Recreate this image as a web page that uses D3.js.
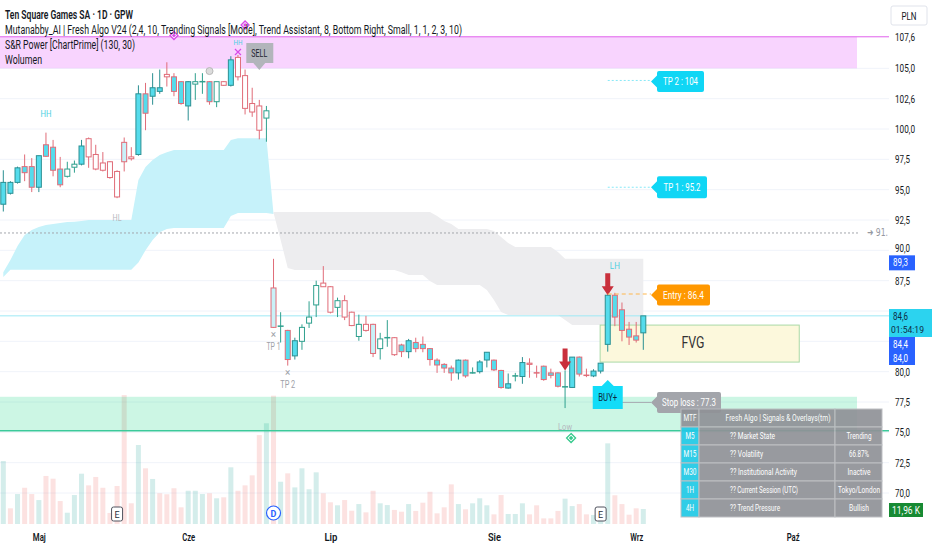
<!DOCTYPE html>
<html>
<head>
<meta charset="utf-8">
<script src="https://cdnjs.cloudflare.com/ajax/libs/d3/7.8.5/d3.min.js"></script>
<style>
  body { margin: 0; background: #fff; }
  svg { display: block; font-family: Roboto, "DejaVu Sans", sans-serif; }
</style>
</head>
<body>
<svg></svg>
<script>
// Daily candles, Ten Square Games (PLN)
const open  = [93.8,94.7,95.6,96.9,96.9,95.2,98.7,98.5,96.7,96.1, 96.85,97.1,99.2,97.9,97.2,97.3,96.5,98.9,97.7,97.9,
               102.9,102.7,103.1,104.5,104.3,103.9,103.9,103.7,103.9,103.9, 102.25,103.9,103.6,105.9,104.4,102.1,101.9,100.9,86.9,83.7,
               83.4,81.3,82.5,84.0,85.5,87.3,87.0,85.3,85.85,84.9, 82.9,83.9,83.9,81.9,82.8,82.8,82.2,81.65,82.4,82.25,
               81.9,80.95,80.6,80.3,79.9,80.95,79.9,80.0,80.96,80.95, 80.1,78.65,79.6,79.6,80.7,79.95,80.45,79.9,79.9,78.7,
               78.7,81.2,79.75,79.65,80.05,82.25,86.3,85.1,83.5,82.95, 83.2];
const high  = [96.6,95.7,96.9,97.9,97.6,97.8,99.7,99.1,97.7,97.3, 97.4,99.1,99.3,98.7,98.1,97.35,96.6,99.3,98.5,103.6,
               103.8,104.6,104.9,105.5,104.6,103.95,103.95,104.6,104.6,103.95, 103.9,103.95,106.0,106.1,104.9,103.4,102.4,101.9,89.3,84.9,
               83.45,82.8,83.9,85.8,87.5,88.7,87.05,86.1,86.3,84.95, 84.7,84.6,83.95,83.2,84.25,82.85,82.3,82.7,82.8,82.9,
               81.95,81.1,80.7,80.5,81.0,81.0,80.35,80.95,81.6,81.0, 80.15,79.85,79.9,81.2,81.1,80.5,80.5,80.25,79.95,80.1,
               81.2,81.25,80.25,80.2,80.7,86.3,86.5,85.7,84.1,84.1, 84.5];
const low   = [93.2,94.6,95.5,95.7,94.8,94.8,97.7,96.1,95.2,96.0, 96.4,97.0,96.8,96.6,96.5,95.9,94.3,96.5,97.4,97.8,
               99.9,102.0,102.9,103.5,102.7,102.0,100.7,102.4,102.9,102.0, 101.8,103.55,103.5,104.0,101.2,101.0,99.15,98.95,83.6,82.4,
               80.5,81.0,81.8,83.6,84.5,87.0,84.8,84.5,84.25,83.75, 82.55,83.3,81.2,81.0,82.05,81.3,81.2,81.1,81.6,81.6,
               80.5,79.9,79.9,79.25,79.35,79.5,79.85,79.85,80.35,80.05, 78.6,78.6,79.2,79.0,79.5,79.5,79.25,79.45,78.7,77.0,
               78.65,79.6,79.55,79.55,79.85,81.65,83.75,82.5,82.2,82.4, 81.8];
const close = [95.6,95.6,96.8,96.4,95.2,97.8,97.75,96.6,95.4,96.7, 97.1,98.6,97.7,96.7,96.6,96.0,94.4,97.3,97.55,102.9,
               101.3,103.4,103.4,104.3,103.1,102.1,101.9,103.9,103.9,102.25, 103.9,103.6,105.7,104.3,101.7,101.4,99.9,101.5,83.65,83.75,
               81.0,82.55,83.65,84.5,87.1,87.0,84.9,85.85,84.5,83.8, 83.9,83.4,81.5,82.7,82.8,81.4,81.65,82.55,81.9,81.9,
               81.0,80.55,80.3,79.9,80.95,79.65,79.9,80.8,81.6,80.15, 78.7,79.0,79.65,80.75,80.6,79.9,79.35,79.7,78.8,78.75,
               81.2,79.8,79.7,80.05,80.7,86.3,84.5,83.4,82.85,82.6, 84.6];
// candle colouring of the indicator: f cyan, fr cyan/red edge, w hollow teal, r hollow red, lr pale/red edge, d/dr doji
const kind  = ["f","f","f","fr","fr","f","fr","fr","fr","w", "w","f","r","r","r","r","r","lr","r","f",
               "fr","f","f","r","fr","fr","f","w","d","fr", "w","r","f","r","r","r","r","w","lr","d",
               "fr","f","w","w","w","r","r","w","r","r", "w","r","lr","w","d","r","fr","f","fr","fr",
               "fr","fr","fr","fr","f","fr","d","f","f","fr", "fr","f","d","f","r","dr","fr","fr","fr","d",
               "f","fr","dr","f","f","f","fr","fr","fr","fr", "f"];
// volume, thousands of shares
const volume = [50.2,12.5,23.9,28.9,23.9,19.1,38.3,36.1,18.3,9.0, 23.1,40.1,30.8,37.5,28.9,8.8,30.3,102.8,16.5,63.0,
                44.4,35.9,24.5,23.7,28.5,13.3,26.5,26.5,23.9,24.5, 20.5,21.3,45.2,26.5,30.8,38.8,70.9,80.3,102.3,33.7,
                40.4,29.2,44.4,27.7,41.2,24.5,17.3,14.9,19.1,10.6, 15.9,9.3,26.5,16.5,15.1,11.2,9.8,15.9,10.4,17.0,
                25.7,8.5,13.3,31.6,15.9,11.7,16.5,20.5,14.9,7.7, 23.1,8.0,8.0,16.5,7.7,14.9,4.5,4.5,10.4,20.2,
                14.3,15.9,7.7,7.2,7.2,64.3,22.9,15.9,7.4,12.5, 11.96];
const volDir = ["g","r","g","r","r","g","r","r","r","g", "g","g","r","r","r","r","r","r","r","g",
                "r","g","r","r","r","r","g","g","g","r", "g","r","g","r","r","r","r","g","r","g",
                "r","g","g","g","g","r","r","g","r","r", "g","r","r","g","g","r","r","g","r","r",
                "r","r","r","r","g","r","g","g","g","r", "r","g","g","g","r","r","r","r","r","g",
                "g","r","r","g","g","g","r","r","r","r", "g"];

// trend assistant cloud (candles 1-39) and bearish cloud (candles 39-91)
const cyanTop = [88.2,89.2,90.35,91.26,91.67,91.92,92.09,92.17,92.25,92.33,92.36,92.42,
                 92.5,92.5,92.5,92.5,92.5,92.5,92.5, 95.8,96.87,97.44,97.86,98.08,
                 98.27,98.27,98.27,98.27,98.27,98.27,98.27,98.27, 99.1, 99.23,99.23,99.23,99.23,99.23, 93.0];
const cyanBot = [87.8, 88.4,88.4,88.4,88.4,88.4,88.4,88.4,88.4,88.4,88.4,88.4,88.4,88.4,88.4,88.4,88.4,88.4,88.4,
                 89.0,90.0,90.85,91.5,91.76, 91.84,91.84,91.84,91.84,91.84,91.84,91.84,91.84, 92.83,
                 93.07,93.07,93.07,93.07,93.07, 93.0];
const grayTop = [93.16,93.16,93.16,93.16,93.16,93.16,93.16,93.16,93.16,93.16,93.16,93.16,93.16,93.16,93.16,93.16,
                 93.16,93.16,93.16,93.16,93.16,93.16,93.16, 92.83,92.42,92.17, 91.76,91.76,91.76,91.76,91.76,
                 91.59,91.1,90.6, 90.27,90.27,90.27,90.27,90.27,90.27, 89.86,
                 89.3,89.3,89.3,89.3,89.3,89.3,89.3,89.3,89.3,89.3,89.3,89.3];
const grayBot = [93.1,90.85,88.54, 88.38,88.38,88.38,88.38,88.38,88.38,88.38,88.38,88.38,88.38,88.38,88.38,88.38,88.38,88.38,
                 88.2, 87.96,87.96,87.96, 87.47, 87.14,87.14,87.14,87.14,87.14,87.14,87.14, 86.73,85.9,84.91,
                 84.67,84.67,84.67,84.67,84.67,84.67,84.67,84.67, 84.25,
                 83.84,83.84,83.84,83.84,83.84,83.84,83.84,83.84,83.84,83.84,83.84];
const grayStart = 38;

// axes
const yTicks = [70, 72.5, 75, 77.5, 80, 82.5, 85, 87.5, 90, 92.5, 95, 97.5, 100, 102.5, 105, 107.6];
const yTickLabels = ["70,0","72,5","75,0","77,5","80,0","82,5","85,0","87,5","90,0","92,5","95,0","97,5","100,0","102,6","105,0","107,6"];
const yHidden = [82.5, 85];   // covered by the price boxes on the scale
const monthIdx = [5, 26, 46, 69, 89, 111];
const months = ["Maj", "Cze", "Lip", "Sie", "Wrz", "Paź"];

// zones and signal levels
const pinkZone = [105.0, 107.6];
const mintZone = [75.13, 77.93];
const fvgZone = [80.79, 83.84];
const tp2 = 104, tp1 = 95.2, entry = 86.4, stopLoss = 77.3, lastPrice = 84.6, dashLevel = 91.43;

const legend = [
  "Ten Square Games SA · 1D · GPW",
  "Mutanabby_AI | Fresh Algo V24 (2,4, 10, Trending Signals [Mode], Trend Assistant, 8, Bottom Right, Small, 1, 1, 2, 3, 10)",
  "S&R Power [ChartPrime] (130, 30)",
  "Wolumen"
];
const legendW = [128, 457, 130, 37];

const tableHead = ["MTF", "Fresh Algo | Signals & Overlays(tm)"];
const tfCol = ["M5", "M15", "M30", "1H", "4H"];
const nameCol = ["?? Market State", "?? Volatility", "?? Institutional Activity", "?? Current Session (UTC)", "?? Trend Pressure"];
const valCol = ["Trending", "66.87%", "Inactive", "Tokyo/London", "Bullish"];

const width = 932, height = 550;
const svg = d3.select("svg").attr("width", width).attr("height", height);

const x = d3.scaleLinear().domain([0, 90]).range([3.3, 643.3]);
const y = d3.scaleLinear().domain([70, 100]).range([493, 129]);
const yv = d3.scaleLinear().domain([0, 120]).range([524, 373.5]);
const paneRight = 889;

// text helper, squeezes text into the width seen in the picture
function txt(g, px, py, s, o = {}) {
  const t = g.append("text").attr("x", px).attr("y", py).text(s)
    .attr("font-size", o.size || 11)
    .attr("fill", o.fill || "#131722")
    .attr("text-anchor", o.anchor || "start")
    .attr("font-weight", o.weight || 400);
  if (o.w) t.attr("textLength", o.w).attr("lengthAdjust", "spacingAndGlyphs");
  return t;
}

// grid
svg.append("g").selectAll("line").data(yTicks.slice(0, -1)).enter().append("line")
  .attr("x1", 0).attr("x2", paneRight).attr("y1", d => y(d)).attr("y2", d => y(d))
  .attr("stroke", "#f0f3fa");

// clouds
const cyanArea = d3.area().x((d, i) => x(i)).y0((d, i) => y(cyanBot[i])).y1(d => y(d));
svg.append("path").datum(cyanTop).attr("d", cyanArea).attr("fill", "#c6f2fa");
const grayArea = d3.area().x((d, i) => x(i + grayStart)).y0((d, i) => y(grayBot[i])).y1(d => y(d));
svg.append("path").datum(grayTop).attr("d", grayArea).attr("fill", "#ededef");

// volume
svg.append("g").selectAll("rect").data(volume).enter().append("rect")
  .attr("x", (d, i) => x(i) - 2.5).attr("width", 5)
  .attr("y", d => yv(d)).attr("height", d => yv(0) - yv(d))
  .attr("fill", (d, i) => volDir[i] === "g" ? "rgba(38,166,154,0.2)" : "rgba(239,83,80,0.17)");

// zones
svg.append("rect").attr("x", 0).attr("width", 857)
  .attr("y", y(pinkZone[1])).attr("height", y(pinkZone[0]) - y(pinkZone[1]))
  .attr("fill", "rgba(213,0,249,0.17)");
svg.append("line").attr("x1", 0).attr("x2", paneRight).attr("y1", y(pinkZone[1])).attr("y2", y(pinkZone[1]))
  .attr("stroke", "#e060ec").attr("stroke-width", 1);
svg.append("rect").attr("x", 0).attr("width", 857)
  .attr("y", y(mintZone[1])).attr("height", y(mintZone[0]) - y(mintZone[1]))
  .attr("fill", "rgba(0,210,120,0.2)");
svg.append("line").attr("x1", 0).attr("x2", paneRight).attr("y1", y(mintZone[0])).attr("y2", y(mintZone[0]))
  .attr("stroke", "#3cc99a").attr("stroke-width", 1.5);

// price lines
svg.append("line").attr("x1", 0).attr("x2", 858).attr("y1", y(dashLevel)).attr("y2", y(dashLevel))
  .attr("stroke", "#a3a6ad").attr("stroke-dasharray", "2,2");
svg.append("line").attr("x1", 0).attr("x2", paneRight).attr("y1", y(lastPrice)).attr("y2", y(lastPrice))
  .attr("stroke", "#9ee9f5").attr("stroke-width", 1);

// FVG box
svg.append("rect").attr("x", x(84) - 0.5).attr("width", x(112) - x(84))
  .attr("y", y(fvgZone[1])).attr("height", y(fvgZone[0]) - y(fvgZone[1]))
  .attr("fill", "#fcf8dc").attr("stroke", "#a9d9a6").attr("stroke-width", 1);
txt(svg, 693, 348, "FVG", { size: 16, anchor: "middle", w: 23, fill: "#333" });

// candles
const fillOf = { f: "#55dcec", fr: "#55dcec", w: "#ffffff", r: "#ffffff", lr: "#c9f1f8" };
const strokeOf = { f: "#2b8f92", fr: "#e06c78", w: "#2fa08e", r: "#e06c78", lr: "#e06c78", d: "#2fa08e", dr: "#e06c78" };
const candles = svg.append("g");
candles.selectAll("line.wick").data(open).enter().append("line").attr("class", "wick")
  .attr("x1", (d, i) => x(i)).attr("x2", (d, i) => x(i))
  .attr("y1", (d, i) => y(high[i])).attr("y2", (d, i) => y(low[i]))
  .attr("stroke", (d, i) => strokeOf[kind[i]]);
open.forEach((o, i) => {
  const c = close[i], k = kind[i];
  if (k === "d" || k === "dr") {
    candles.append("line").attr("x1", x(i) - 3).attr("x2", x(i) + 3)
      .attr("y1", y(c)).attr("y2", y(c)).attr("stroke", strokeOf[k]).attr("stroke-width", 1.5);
  } else {
    const top = y(Math.max(o, c)), bot = y(Math.min(o, c));
    candles.append("rect").attr("x", x(i) - 2.5).attr("width", 5)
      .attr("y", top).attr("height", Math.max(1, bot - top))
      .attr("fill", fillOf[k]).attr("stroke", strokeOf[k]).attr("stroke-width", 1);
  }
});

// swing labels
const ann = svg.append("g");
txt(ann, x(6), y(high[6]) - 16, "HH", { size: 9, anchor: "middle", fill: "#4dd0e1", w: 11 });
txt(ann, x(33), 45, "HH", { size: 8, anchor: "middle", fill: "#4dd0e1", w: 9 });
txt(ann, x(16), y(low[16]) + 23, "HL", { size: 9, anchor: "middle", fill: "#b5b8be", w: 9 });
txt(ann, x(86), y(high[86]) - 24, "LH", { size: 9, anchor: "middle", fill: "#4dd0e1", w: 10 });
txt(ann, x(79), y(low[79]) + 22, "Low", { size: 9, anchor: "middle", fill: "#b5b8be", w: 14 });
txt(ann, x(38), y(low[38]) + 10, "×", { size: 10, anchor: "middle", fill: "#9ea1a8" });
txt(ann, x(38), y(low[38]) + 22, "TP 1", { size: 10, anchor: "middle", fill: "#9ea1a8", w: 14 });
txt(ann, x(40), y(low[40]) + 10, "×", { size: 10, anchor: "middle", fill: "#9ea1a8" });
txt(ann, x(40), y(low[40]) + 22, "TP 2", { size: 10, anchor: "middle", fill: "#9ea1a8", w: 15 });

// magenta X over the top candle, diamonds and small gray dot
const mx = x(33), my = y(high[33]) - 3;
ann.append("path").attr("d", `M${mx - 3},${my - 3}L${mx + 3},${my + 3}M${mx + 3},${my - 3}L${mx - 3},${my + 3}`)
  .attr("stroke", "#d84ae8").attr("stroke-width", 1.2);
function diamond(cx, cy, r, col) {
  ann.append("path").attr("d", `M${cx},${cy - r}L${cx + r},${cy}L${cx},${cy + r}L${cx - r},${cy}Z`)
    .attr("fill", "#fff").attr("stroke", col).attr("stroke-width", 1.3);
  ann.append("path").attr("d", `M${cx},${cy - r / 2}L${cx + r / 2},${cy}L${cx},${cy + r / 2}L${cx - r / 2},${cy}Z`)
    .attr("fill", col);
}
diamond(x(24), 35.5, 4, "#d84ae8");
diamond(x(34), 25, 4, "#d84ae8");
diamond(x(79) + 6, y(low[79]) + 30, 4.5, "#36c98c");
ann.append("circle").attr("cx", x(29)).attr("cy", y(high[29]) - 10).attr("r", 3.5)
  .attr("fill", "#dcdcdc").attr("stroke", "#b8b8b8");

// red down arrows
function arrow(cx, tip) {
  ann.append("path")
    .attr("d", `M${cx - 2.5},${tip - 22}H${cx + 2.5}V${tip - 9}H${cx + 6}L${cx},${tip}L${cx - 6},${tip - 9}H${cx - 2.5}Z`)
    .attr("fill", "#c9303c");
}
arrow(x(79), y(high[79]));
arrow(x(85), y(high[85]));

// callouts
function calloutLeft(tipX, cy, w, h, fill, s, tw, tcol) {
  const l = tipX + 6, t = cy - h / 2, b = cy + h / 2;
  ann.append("path")
    .attr("d", `M${tipX},${cy}L${l},${cy - 6}V${t + 2}Q${l},${t} ${l + 2},${t}H${l + w - 2}Q${l + w},${t} ${l + w},${t + 2}V${b - 2}Q${l + w},${b} ${l + w - 2},${b}H${l + 2}Q${l},${b} ${l},${b - 2}V${cy + 6}Z`)
    .attr("fill", fill);
  txt(ann, l + w / 2, cy + 4, s, { size: 11, anchor: "middle", fill: tcol || "#fff", w: tw });
}
const lineX0 = x(85), tipX = x(90) + 7.7;
[[tp2, "#87e8f7", "2,2"], [tp1, "#87e8f7", "2,2"], [entry, "#ffb74d", "4,3"], [stopLoss, "#a8abb2", null]].forEach(([p, col, dash]) => {
  const yy = p === stopLoss ? y(p) - 2 : y(p);
  const ln = ann.append("line").attr("x1", lineX0).attr("x2", tipX).attr("y1", yy).attr("y2", yy)
    .attr("stroke", col).attr("stroke-width", 1);
  if (dash) ln.attr("stroke-dasharray", dash);
});
calloutLeft(tipX, y(tp2) + 1, 47, 21, "#10d6f5", "TP 2 : 104", 35);
calloutLeft(tipX, y(tp1), 50, 22, "#10d6f5", "TP 1 : 95.2", 37);
calloutLeft(tipX, y(entry) + 1, 53, 21, "#ff9800", "Entry : 86.4", 41);
calloutLeft(tipX, y(stopLoss) - 2, 64, 21, "#a3a5ab", "Stop loss : 77.3", 54);

// BUY+ (pointing up) and SELL (pointing down)
{
  const cx = x(85), tip = 380, t = 386, b = 409;
  ann.append("path").attr("d", `M${cx},${tip}L${cx + 6},${t}H${cx + 15}V${b}H${cx - 15}V${t}H${cx - 6}Z`).attr("fill", "#12dcf8");
  txt(ann, cx, 401, "BUY+", { size: 10, anchor: "middle", fill: "#0c2a3e", w: 19 });
}
{
  const cx = x(36), tip = 70, t = 43, b = 63;
  ann.append("path").attr("d", `M${cx},${tip}L${cx + 6},${b}H${cx + 14}V${t}H${cx - 13}V${b}H${cx - 6}Z`).attr("fill", "#b2b5bb");
  txt(ann, cx, 57, "SELL", { size: 10, anchor: "middle", fill: "#1d2230", w: 16 });
}

// event markers on time axis
function eMark(cx) {
  ann.append("rect").attr("x", cx - 5.5).attr("y", 507).attr("width", 11).attr("height", 14).attr("rx", 2)
    .attr("fill", "#fff").attr("stroke", "#50535e");
  txt(ann, cx, 518, "E", { size: 9, anchor: "middle", fill: "#2a2e39" });
}
eMark(x(16));
eMark(x(84));
ann.append("circle").attr("cx", x(38)).attr("cy", 513).attr("r", 7).attr("fill", "#fff").attr("stroke", "#2962ff").attr("stroke-width", 1.2);
txt(ann, x(38), 516.5, "D", { size: 9, anchor: "middle", fill: "#2962ff", weight: 700 });

// legend
legend.forEach((s, i) => {
  txt(svg, 5, 19 + i * 15, s, { size: 12, w: legendW[i], weight: i === 0 ? 600 : 400 });
});

// price axis
const yAxis = svg.append("g").attr("transform", "translate(895,0)")
  .call(d3.axisRight(y).tickValues(yTicks.filter(d => !yHidden.includes(d)))
    .tickFormat(d => yTickLabels[yTicks.indexOf(d)]).tickSize(0).tickPadding(0));
yAxis.select(".domain").remove();
yAxis.selectAll("text").attr("font-size", 11).attr("fill", "#131722")
  .attr("font-family", "Roboto, sans-serif")
  .attr("textLength", d => yTickLabels[yTicks.indexOf(d)].length > 4 ? 20 : 15).attr("lengthAdjust", "spacingAndGlyphs");
// the 90,0 label sits just above the 89,3 box
yAxis.selectAll(".tick").filter(d => d === 90).select("text").attr("dy", "0.1em");

svg.append("rect").attr("x", 891).attr("y", 6).attr("width", 36).attr("height", 19).attr("rx", 2)
  .attr("fill", "#fff").attr("stroke", "#e0e3eb");
txt(svg, 909, 19.5, "PLN", { size: 10, anchor: "middle", w: 15 });
txt(svg, 867, y(dashLevel) + 3.5, "➜ 91.", { size: 10, fill: "#9598a1", w: 21 }).attr("font-family", "DejaVu Sans");

function axisBox(yc, h, fill, lines, tcol, w) {
  svg.append("rect").attr("x", 889).attr("y", yc - h / 2).attr("width", w).attr("height", h).attr("fill", fill);
  lines.forEach((s, i) => {
    const long = s.length > 5;
    txt(svg, long ? 891 : 893, yc - h / 2 + 11 + i * 13, s, { size: long ? 9 : 11, fill: tcol, w: long ? 33 : 15 });
  });
}
axisBox(y(89.3) + 4, 15, "#2962ff", ["89,3"], "#fff", 26);
axisBox(323, 28, "#2cd3ef", ["84,6", "01:54:19"], "#0d2c44", 43);
axisBox(344, 14, "#2962ff", ["84,4"], "#fff", 26);
axisBox(358, 14, "#2962ff", ["84,0"], "#fff", 26);
svg.append("rect").attr("x", 889).attr("y", 503).attr("width", 34).attr("height", 14).attr("fill", "#178a33");
txt(svg, 906, 514, "11,96 K", { size: 11, anchor: "middle", fill: "#fff", w: 28 });

// time axis
const xAxis = svg.append("g").attr("transform", "translate(0,531)")
  .call(d3.axisBottom(x).tickValues(monthIdx).tickFormat((d, i) => months[i]).tickSize(0).tickPadding(2));
xAxis.select(".domain").remove();
xAxis.selectAll("text").attr("font-size", 11).attr("fill", "#131722").attr("font-weight", 600)
  .attr("font-family", "Roboto, sans-serif")
  .attr("textLength", 13).attr("lengthAdjust", "spacingAndGlyphs");

// info table
const tb = svg.append("g").attr("opacity", 0.92);
const colX = [681, 699, 835, 882];
const rowY = [409, 427, 445, 463, 481, 499, 517];
for (let r = 0; r < 6; r++) {
  for (let c = 0; c < 3; c++) {
    tb.append("rect").attr("x", colX[c]).attr("y", rowY[r])
      .attr("width", colX[c + 1] - colX[c]).attr("height", rowY[r + 1] - rowY[r])
      .attr("fill", c === 0 && r > 0 ? "#1fc9e6" : "#909297")
      .attr("stroke", "#b9bbbf").attr("stroke-width", 1);
  }
}
const fs = 8.5;
txt(tb, 690, 421, tableHead[0], { size: fs, anchor: "middle", fill: "#fff", w: 13 });
txt(tb, 778, 421, tableHead[1], { size: fs, anchor: "middle", fill: "#fff", w: 105 });
const tfW = [9, 13, 13, 8, 8], nameW = [45, 33, 67, 68, 50], valW = [25, 20, 23, 42, 20];
tfCol.forEach((s, i) => {
  const by = rowY[i + 1] + 12;
  txt(tb, 690, by, s, { size: fs, anchor: "middle", fill: "#fff", w: tfW[i] });
  txt(tb, 730, by, nameCol[i], { size: fs, fill: "#fff", w: nameW[i] });
  txt(tb, 859, by, valCol[i], { size: fs, anchor: "middle", fill: "#fff", w: valW[i] });
});
</script>
</body>
</html>
